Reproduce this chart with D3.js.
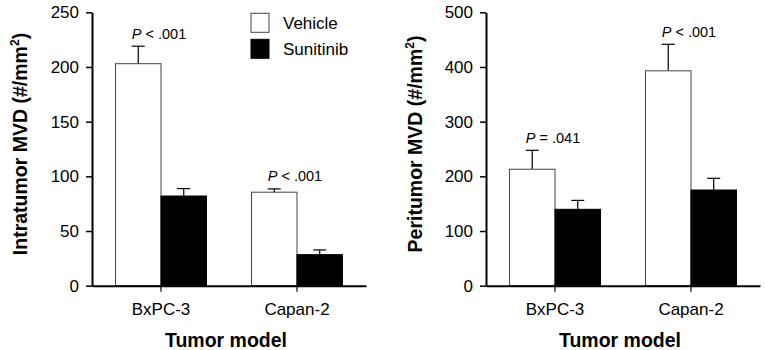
<!DOCTYPE html>
<html>
<head>
<meta charset="utf-8">
<script src="https://cdnjs.cloudflare.com/ajax/libs/d3/7.8.5/d3.min.js"></script>
<style>
body { margin: 0; background: #fff; }
svg { font-family: Arial, "Liberation Sans", sans-serif; }
</style>
</head>
<body>
<svg id="chart" width="765" height="350"></svg>
<script>
// data
var models = ["BxPC-3", "Capan-2"];
var groups = ["Vehicle", "Sunitinib"];

var intraVehicle = [203, 85.5];
var intraVehicleErr = [16, 3];
var intraSunitinib = [82, 28.4];
var intraSunitinibErr = [6.8, 4.3];
var intraP = ["< .001", "< .001"];
var intraTicks = [0, 50, 100, 150, 200, 250];

var periVehicle = [213, 393];
var periVehicleErr = [34.6, 48.5];
var periSunitinib = [139.7, 175];
var periSunitinibErr = [16.3, 21.4];
var periP = ["= .041", "< .001"];
var periTicks = [0, 100, 200, 300, 400, 500];

var svg = d3.select("#chart");
var top0 = 12.3, bottom0 = 285.7;

function drawPanel(x0, x1, yMax, ticks, vehicle, vehicleErr, suni, suniErr, pvals, title, titleX) {
    var g = svg.append("g");

    var x = d3.scaleBand().domain(models).range([x0, x1])
        .paddingInner(0.331).paddingOuter(0.173);
    var xs = d3.scaleBand().domain(groups).range([0, x.bandwidth()]);
    var y = d3.scaleLinear().domain([0, yMax]).range([bottom0, top0]);

    var rows = [];
    models.forEach(function(m, i) {
        rows.push({model: m, group: "Vehicle", v: vehicle[i], e: vehicleErr[i]});
        rows.push({model: m, group: "Sunitinib", v: suni[i], e: suniErr[i]});
    });

    // error bars (upper only)
    var eb = g.selectAll(".err").data(rows).enter().append("g");
    eb.append("line")
        .attr("x1", function(d) { return x(d.model) + xs(d.group) + xs.bandwidth() / 2; })
        .attr("x2", function(d) { return x(d.model) + xs(d.group) + xs.bandwidth() / 2; })
        .attr("y1", function(d) { return y(d.v); })
        .attr("y2", function(d) { return y(d.v + d.e); })
        .attr("stroke", "#000").attr("stroke-width", 1.2);
    eb.append("line")
        .attr("x1", function(d) { return x(d.model) + xs(d.group) + xs.bandwidth() / 2 - 6.5; })
        .attr("x2", function(d) { return x(d.model) + xs(d.group) + xs.bandwidth() / 2 + 6.5; })
        .attr("y1", function(d) { return y(d.v + d.e); })
        .attr("y2", function(d) { return y(d.v + d.e); })
        .attr("stroke", "#000").attr("stroke-width", 1.2);

    g.selectAll("rect.bar").data(rows).enter().append("rect")
        .attr("class", "bar")
        .attr("x", function(d) { return x(d.model) + xs(d.group); })
        .attr("y", function(d) { return y(d.v); })
        .attr("width", xs.bandwidth())
        .attr("height", function(d) { return y(0) - y(d.v); })
        .attr("fill", function(d) { return d.group == "Vehicle" ? "#fff" : "#000"; })
        .attr("stroke", function(d) { return d.group == "Vehicle" ? "#444" : "#000"; })
        .attr("stroke-width", 1);

    // axes
    var ya = g.append("g").attr("transform", "translate(" + x0 + ",0)")
        .call(d3.axisLeft(y).tickValues(ticks).tickSize(6).tickPadding(7).tickSizeOuter(0));
    ya.select(".domain").attr("stroke-width", 2);
    ya.selectAll(".tick line").attr("stroke-width", 1.5);
    ya.selectAll("text").attr("font-size", 17).attr("fill", "#000")
        .attr("font-family", "Arial, 'Liberation Sans', sans-serif");

    var xa = g.append("g").attr("transform", "translate(0," + bottom0 + ")")
        .call(d3.axisBottom(x).tickSize(6).tickPadding(11).tickSizeOuter(0));
    xa.select(".domain").attr("stroke-width", 2);
    xa.selectAll(".tick line").attr("stroke-width", 1.2);
    xa.selectAll("text").attr("font-size", 17).attr("fill", "#000")
        .attr("font-family", "Arial, 'Liberation Sans', sans-serif");

    // P values
    var pt = g.selectAll(".pval").data(models).enter().append("text")
        .attr("x", function(d) { return x(d) + x.bandwidth() / 2 - 2; })
        .attr("y", function(d, i) { return y(vehicle[i] + vehicleErr[i]) - 7.5; })
        .attr("text-anchor", "middle")
        .attr("font-size", 14.5);
    pt.append("tspan").attr("font-style", "italic").text("P");
    pt.append("tspan").text(function(d, i) { return " " + pvals[i]; });

    // titles
    g.append("text")
        .attr("x", (x0 + x1) / 2 - 3)
        .attr("y", 347)
        .attr("text-anchor", "middle")
        .attr("font-size", 19.5).attr("font-weight", "bold")
        .text("Tumor model");

    var yt = g.append("text")
        .attr("transform", "translate(" + titleX + ",144) rotate(-90)")
        .attr("text-anchor", "middle")
        .attr("font-size", 19.5).attr("font-weight", "bold");
    yt.append("tspan").text(title + " (#/mm");
    yt.append("tspan").attr("font-size", 12).attr("dy", -8).text("2");
    yt.append("tspan").attr("dy", 8).text(")");
}

drawPanel(92, 366, 250, intraTicks, intraVehicle, intraVehicleErr, intraSunitinib, intraSunitinibErr,
    intraP, "Intratumor MVD", 27);
drawPanel(486, 760, 500, periTicks, periVehicle, periVehicleErr, periSunitinib, periSunitinibErr,
    periP, "Peritumor MVD", 422);

// legend
var leg = svg.append("g").selectAll("g").data(groups).enter().append("g")
    .attr("transform", function(d, i) { return "translate(251," + (13.3 + i * 26) + ")"; });
leg.append("rect")
    .attr("width", 18).attr("height", 19)
    .attr("fill", function(d) { return d == "Vehicle" ? "#fff" : "#000"; })
    .attr("stroke", function(d) { return d == "Vehicle" ? "#444" : "#000"; });
leg.append("text")
    .attr("x", 32).attr("y", 9.5).attr("dy", "0.35em")
    .attr("font-size", 17)
    .text(function(d) { return d; });
</script>
</body>
</html>
